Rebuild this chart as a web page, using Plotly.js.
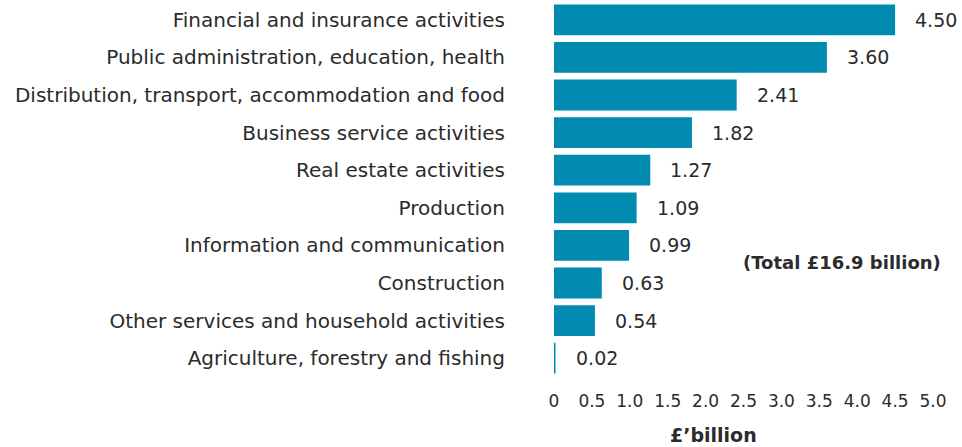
<!DOCTYPE html>
<html>
<head>
<meta charset="utf-8">
<script src="https://cdn.plot.ly/plotly-3.0.1.min.js"></script>
<style>
  body { margin: 0; background: #fff; }
  #chart { width: 962px; height: 447px; }
</style>
</head>
<body>
<div id="chart"></div>
<script>
const sectors = [
  "Financial and insurance activities",
  "Public administration, education, health",
  "Distribution, transport, accommodation and food",
  "Business service activities",
  "Real estate activities",
  "Production",
  "Information and communication",
  "Construction",
  "Other services and household activities",
  "Agriculture, forestry and fishing"
];

const values = [4.50, 3.60, 2.41, 1.82, 1.27, 1.09, 0.99, 0.63, 0.54, 0.02];

const tickValues = [0, 0.5, 1.0, 1.5, 2.0, 2.5, 3.0, 3.5, 4.0, 4.5, 5.0];
const tickLabels = ["0", "0.5", "1.0", "1.5", "2.0", "2.5", "3.0", "3.5", "4.0", "4.5", "5.0"];

const FONT = "DejaVu Sans, Noto Sans, sans-serif";
const TEXT = "#2b2b2b";

const bars = {
  type: "bar",
  orientation: "h",
  x: values,
  y: sectors,
  marker: { color: "#018bb1" },
  hoverinfo: "x+y"
};

// value labels next to each bar end
const labels = values.map((v, i) => ({
  x: v,
  y: sectors[i],
  xref: "x",
  yref: "y",
  text: v.toFixed(2),
  showarrow: false,
  xanchor: "left",
  xshift: 18,
  font: { family: FONT, size: 19, color: TEXT }
}));

const layout = {
  width: 962,
  height: 447,
  margin: { l: 554, r: 29, t: 1, b: 70 },
  paper_bgcolor: "#fff",
  plot_bgcolor: "#fff",
  bargap: 0.18,
  showlegend: false,
  font: { family: FONT, size: 20, color: TEXT },
  xaxis: {
    range: [0, 5],
    tickvals: tickValues,
    ticktext: tickLabels,
    showgrid: false,
    zeroline: false,
    showline: false,
    ticks: "",
    ticklabelstandoff: 12,
    tickfont: { size: 17 },
    fixedrange: true
  },
  yaxis: {
    autorange: "reversed",
    showgrid: false,
    zeroline: false,
    showline: false,
    ticks: "",
    ticklabelstandoff: 48,
    fixedrange: true
  },
  annotations: labels.concat([
    {
      xref: "paper",
      yref: "paper",
      x: 0.422,
      y: 0,
      yshift: -58,
      yanchor: "middle",
      text: "<b>£’billion</b>",
      showarrow: false,
      font: { family: FONT, size: 19, color: TEXT }
    },
    {
      xref: "paper",
      yref: "y",
      x: 1.026,
      y: 6.45,
      xanchor: "right",
      yanchor: "middle",
      text: "<b>(Total £16.9 billion)</b>",
      showarrow: false,
      font: { family: FONT, size: 18, color: TEXT }
    }
  ])
};

Plotly.newPlot("chart", [bars], layout, { displayModeBar: false, staticPlot: true });
</script>
</body>
</html>
